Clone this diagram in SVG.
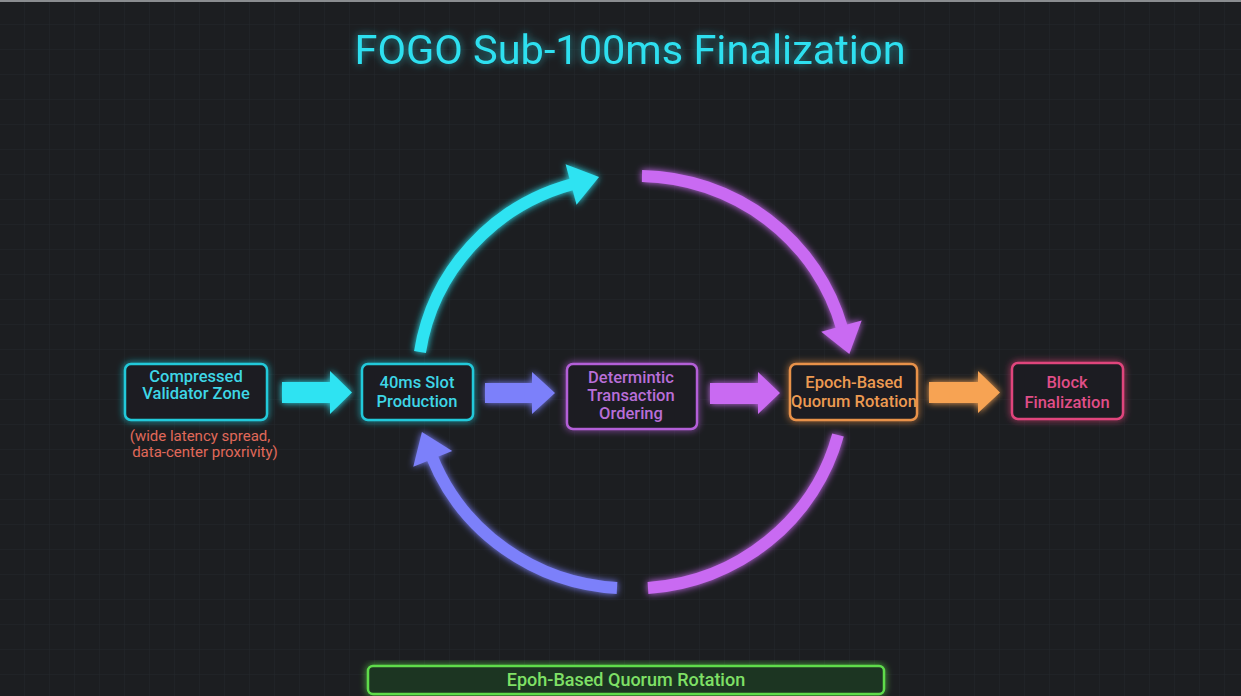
<svg xmlns="http://www.w3.org/2000/svg" width="1241" height="696" viewBox="0 0 1241 696">
  <defs>
    <pattern id="grid" width="25" height="25" patternUnits="userSpaceOnUse">
      <path d="M25,0 V25 H0" fill="none" stroke="#24272b" stroke-width="1"/>
    </pattern>
    <filter id="glow" x="-20%" y="-20%" width="140%" height="140%">
      <feGaussianBlur in="SourceGraphic" stdDeviation="3.5" result="b"/>
      <feMerge><feMergeNode in="b"/><feMergeNode in="SourceGraphic"/></feMerge>
    </filter>
    <filter id="tglow" x="-10%" y="-30%" width="120%" height="160%">
      <feGaussianBlur in="SourceGraphic" stdDeviation="4" result="b"/>
      <feComponentTransfer in="b" result="b2"><feFuncA type="linear" slope="0.6"/></feComponentTransfer>
      <feMerge><feMergeNode in="b2"/><feMergeNode in="SourceGraphic"/></feMerge>
    </filter>
    <marker id="mCyan" markerUnits="userSpaceOnUse" orient="auto" markerWidth="32" markerHeight="46" viewBox="0 -23 32 46" refX="2" refY="0" overflow="visible">
      <path d="M0,-21 L29,0 L0,21 z" fill="#2ee3f2"/>
    </marker>
    <marker id="mPurple" markerUnits="userSpaceOnUse" orient="auto" markerWidth="32" markerHeight="46" viewBox="0 -23 32 46" refX="2" refY="0" overflow="visible">
      <path d="M0,-21 L29,0 L0,21 z" fill="#c96af2"/>
    </marker>
    <marker id="mBlue" markerUnits="userSpaceOnUse" orient="auto" markerWidth="32" markerHeight="46" viewBox="0 -23 32 46" refX="2" refY="0" overflow="visible">
      <path d="M0,-21 L29,0 L0,21 z" fill="#7c80fa"/>
    </marker>
  </defs>
  <style>
    .box { fill: #1b1d21; stroke-width: 2.5; }
    .lbl { font-family: Roboto, "Liberation Sans", sans-serif; font-weight: 500; font-size: 16.5px; text-anchor: middle; }
    .arc { fill: none; stroke-width: 12; }
  </style>

  <rect x="0" y="0" width="1241" height="696" fill="#1c1e21"/>
  <rect x="0" y="0" width="1241" height="696" fill="url(#grid)"/>
  <rect x="0" y="0" width="1241" height="2" fill="#8a8d90"/>

  <text x="630" y="64" font-family="Roboto, 'Liberation Sans', sans-serif" font-size="41.5" fill="#2ee0f0" text-anchor="middle" filter="url(#tglow)">FOGO Sub-100ms Finalization</text>

  <g id="connectors" filter="url(#glow)">
    <polygon points="282,382 330,382 330,371 352,392.5 330,414 330,403 282,403" fill="#2ee3f2"/>
    <polygon points="485,383 532,383 532,372 555,393 532,414 532,403 485,403" fill="#7c80fa"/>
    <polygon points="710,383 758,383 758,372 780,393 758,414 758,404 710,404" fill="#c96af2"/>
    <polygon points="929,382 978,382 978,371 1000,392.5 978,413 978,403 929,403" fill="#f7a352"/>
    <path class="arc" d="M420,352 A212,207 0 0 1 573,184" stroke="#2ee3f2" marker-end="url(#mCyan)"/>
    <path class="arc" d="M642,176 A212,207 0 0 1 842,328" stroke="#c96af2" marker-end="url(#mPurple)"/>
    <path class="arc" d="M838,435 A212,207 0 0 1 648,588" stroke="#c96af2"/>
    <path class="arc" d="M617,588 A212,207 0 0 1 432,457" stroke="#7c80fa" marker-end="url(#mBlue)"/>
  </g>

  <g id="node-compressed">
    <rect class="box" x="125" y="364" width="142" height="56" rx="6" stroke="#22c9da" filter="url(#glow)"/>
    <text class="lbl" x="196" y="382" fill="#3ed6e6">Compressed</text>
    <text class="lbl" x="196" y="399" fill="#3ed6e6">Validator Zone</text>
    <text class="lbl" x="200" y="441" fill="#e0695a" style="font-weight:400;font-size:15px">(wide latency spread,</text>
    <text class="lbl" x="205" y="457" fill="#e0695a" style="font-weight:400;font-size:15px">data-center proxrivity)</text>
  </g>

  <g id="node-slot">
    <rect class="box" x="362" y="364" width="111" height="56" rx="6" stroke="#22c9da" filter="url(#glow)"/>
    <text class="lbl" x="417" y="388" fill="#3ed6e6">40ms Slot</text>
    <text class="lbl" x="417" y="407" fill="#3ed6e6">Production</text>
  </g>

  <g id="node-ordering">
    <rect class="box" x="567" y="364" width="130" height="65" rx="6" stroke="#b35ed8" filter="url(#glow)"/>
    <text class="lbl" x="631" y="383" fill="#b86ed8">Determintic</text>
    <text class="lbl" x="631" y="401" fill="#b86ed8">Transaction</text>
    <text class="lbl" x="631" y="419" fill="#b86ed8">Ordering</text>
  </g>

  <g id="node-epoch">
    <rect class="box" x="790" y="364" width="127" height="56" rx="6" stroke="#e8914a" filter="url(#glow)"/>
    <text class="lbl" x="854" y="388" fill="#ec9a52">Epoch-Based</text>
    <text class="lbl" x="854" y="407" fill="#ec9a52">Quorum Rotation</text>
  </g>

  <g id="node-block">
    <rect class="box" x="1012" y="363" width="111" height="56" rx="6" stroke="#e0447c" filter="url(#glow)"/>
    <text class="lbl" x="1067" y="388" fill="#e04e88">Block</text>
    <text class="lbl" x="1067" y="408" fill="#e04e88">Finalization</text>
  </g>

  <g id="node-banner">
    <rect x="368" y="666" width="516" height="28" rx="5" fill="#1d3520" stroke="#5fdc4c" stroke-width="2.5" filter="url(#glow)"/>
    <text class="lbl" x="626" y="686" fill="#7fe066" style="font-size:18px">Epoh-Based Quorum Rotation</text>
  </g>
</svg>
